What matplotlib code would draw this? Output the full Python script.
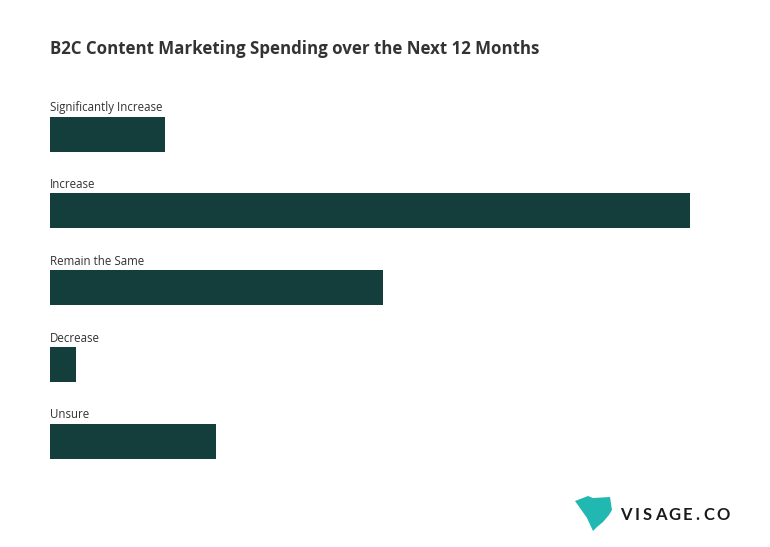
import matplotlib
matplotlib.use('Agg')
from matplotlib import pyplot as plt
from matplotlib.patches import Polygon

# Chart data
categories = ['Significantly Increase', 'Increase', 'Remain the Same', 'Decrease', 'Unsure']
values = [9, 50, 26, 2, 13]

bar_color = '#133e3c'
text_color = '#333333'

plt.rcParams['font.family'] = ['Open Sans', 'DejaVu Sans']

W, H = 770, 547
fig = plt.figure(figsize=(W / 100, H / 100), dpi=100)

# Axes placed so that x=0 sits at 50px and x=50 at 690px
top_px, bot_px = 87.9, 487.7
ax = fig.add_axes([50 / W, (H - bot_px) / H, 640 / W, (bot_px - top_px) / H])
pos = list(range(len(categories)))
bar_h = 0.455
ax.barh(pos, values, height=bar_h, color=bar_color)
ax.set_xlim(0, 50)
ax.set_ylim(4.6, -0.6)
ax.axis('off')

for i, name in enumerate(categories):
    ax.text(0, i - bar_h / 2 - 0.035, name, fontsize=8.3, color=text_color,
            ha='left', va='bottom')

# Title
fig.text(50 / W, 1 - 54 / H, 'B2C Content Marketing Spending over the Next 12 Months',
         fontsize=12.15, fontweight='bold', color=text_color, ha='left', va='baseline')

# Logo
shape = [(575, 501), (588, 496), (593, 498), (610, 497), (612, 510), (609, 515),
         (603, 522), (597, 527), (593, 531), (587, 518)]
fig.patches.append(Polygon([(x / W, 1 - y / H) for x, y in shape], closed=True,
                           transform=fig.transFigure, color='#22b8b2', lw=0))
letters = 'VISAGE.CO'
xs = [620, 634.5, 643, 655, 668.5, 682.5, 695, 703, 716]
for ch, x in zip(letters, xs):
    fig.text(x / W, 1 - 520 / H, ch, fontsize=12, fontweight='bold',
             color='#1a1a1a', family=['Lato', 'DejaVu Sans'], ha='left', va='baseline')

fig.savefig('out.png', dpi=100)
